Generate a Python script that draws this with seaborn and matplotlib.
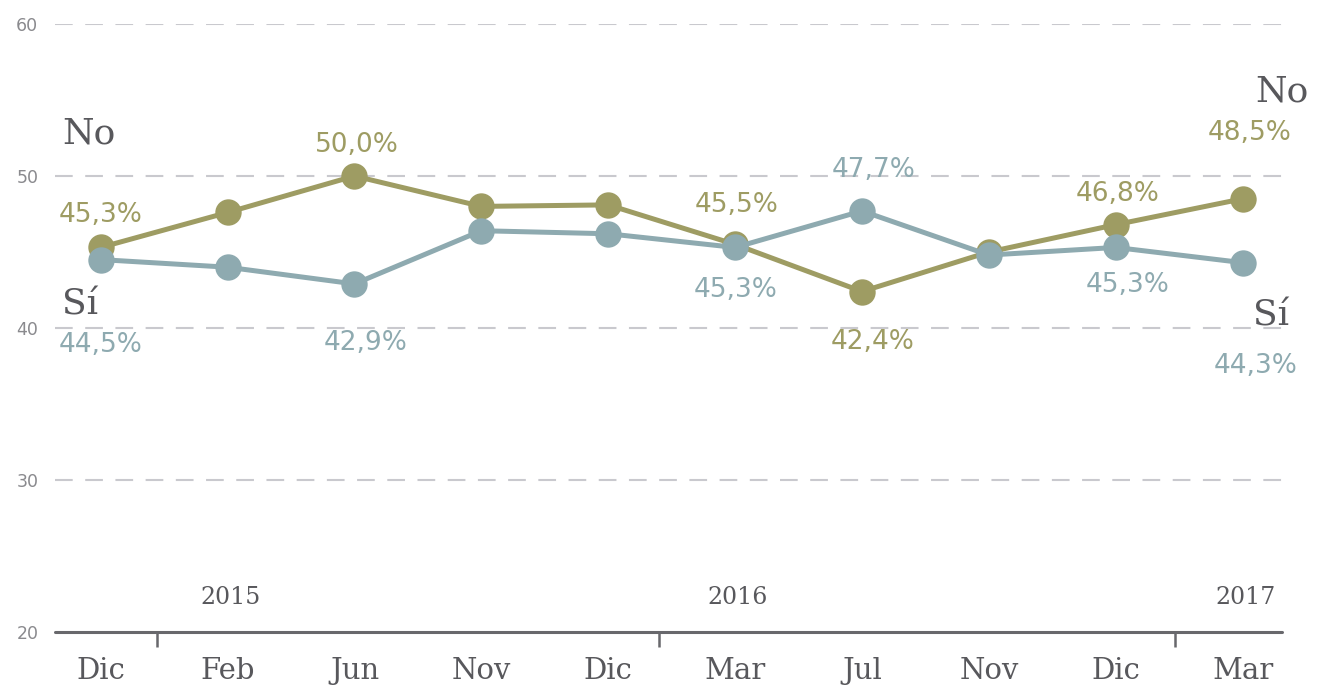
import matplotlib.pyplot as plt
import seaborn as sns
import pandas as pd

plt.switch_backend('Agg')

# Data
months = ['Dic', 'Feb', 'Jun', 'Nov', 'Dic', 'Mar', 'Jul', 'Nov', 'Dic', 'Mar']
years = {1: '2015', 5: '2016', 9: '2017'}
no_vals = [45.3, 47.6, 50.0, 48.0, 48.1, 45.5, 42.4, 45.0, 46.8, 48.5]
si_vals = [44.5, 44.0, 42.9, 46.4, 46.2, 45.3, 47.7, 44.8, 45.3, 44.3]
no_labels = {0: '45,3%', 2: '50,0%', 5: '45,5%', 6: '42,4%', 8: '46,8%', 9: '48,5%'}
si_labels = {0: '44,5%', 2: '42,9%', 5: '45,3%', 6: '47,7%', 8: '45,3%', 9: '44,3%'}
yticks = [20, 30, 40, 50, 60]

GREEN = '#9e9c63'
BLUE = '#8eaab0'
DARK = '#58585c'
AXIS = '#68686c'

df = pd.DataFrame({
    'pos': list(range(len(months))) * 2,
    'valor': no_vals + si_vals,
    'serie': ['No'] * len(months) + ['Sí'] * len(months),
})

sns.set_style('white')
serif = ['DejaVu Serif']
narrow = ['DejaVu Sans Condensed', 'DejaVu Sans']

fig = plt.figure(figsize=(13.22, 6.88), dpi=100)
ax = fig.add_axes([55 / 1322, 1 - 632 / 688, (1282 - 55) / 1322, (632 - 24) / 688])

# dashed grid
for v in yticks[1:]:
    ax.axhline(v, color='#c9c9ce', lw=1.5, ls=(0, (8.5, 6)), zorder=0)
ax.axhline(20, color=AXIS, lw=2.2, zorder=1, clip_on=False)

sns.lineplot(data=df, x='pos', y='valor', hue='serie', hue_order=['No', 'Sí'],
             palette={'No': GREEN, 'Sí': BLUE}, marker='o', markersize=19,
             markeredgewidth=0, linewidth=3.6, legend=False, sort=False, ax=ax, zorder=3)

ax.set_xlim(-0.36, 9.31)
ax.set_ylim(20, 60)
for s in ax.spines.values():
    s.set_visible(False)

ax.set_yticks(yticks)
ax.set_yticklabels([str(v) for v in yticks], color='#8a8a8e', fontsize=12.5, family=['DejaVu Sans'])
ax.tick_params(axis='y', length=0, pad=12)

ax.set_xticks(range(len(months)))
ax.set_xticklabels(months, color=DARK, fontsize=21, family=serif)
ax.tick_params(axis='x', which='major', length=0, pad=18)
ax.set_xticks([0.44, 4.4, 8.47], minor=True)
ax.tick_params(axis='x', which='minor', bottom=True, direction='out', length=11,
               width=1.8, color=AXIS)
ax.set_xlabel('')
ax.set_ylabel('')

# year labels
for i, yr in years.items():
    ax.annotate(yr, (i, 20), xytext=(3, 35), textcoords='offset pixels',
                ha='center', va='center', fontsize=17, color=DARK, family=serif)

# value labels (offsets in pixels)
no_off = {0: (0, 32), 2: (2, 31), 5: (2, 39), 6: (11, -50), 8: (2, 31), 9: (7, 66)}
si_off = {0: (0, -85), 2: (11, -59), 5: (1, -43), 6: (12, 41), 8: (12, -38), 9: (13, -103)}
for i, t in no_labels.items():
    ax.annotate(t, (i, no_vals[i]), xytext=no_off[i], textcoords='offset pixels',
                ha='center', va='center', fontsize=19, color=GREEN, family=narrow)
for i, t in si_labels.items():
    ax.annotate(t, (i, si_vals[i]), xytext=si_off[i], textcoords='offset pixels',
                ha='center', va='center', fontsize=19, color=BLUE, family=narrow)

# series names
ax.annotate('No', (0, no_vals[0]), xytext=(-38, 114), textcoords='offset pixels',
            ha='left', va='center', fontsize=26, color=DARK, family=serif, annotation_clip=False)
ax.annotate('Sí', (0, si_vals[0]), xytext=(-39, -45), textcoords='offset pixels',
            ha='left', va='center', fontsize=26, color=DARK, family=serif, annotation_clip=False)
ax.annotate('No', (9, no_vals[9]), xytext=(13, 107), textcoords='offset pixels',
            ha='left', va='center', fontsize=26, color=DARK, family=serif, annotation_clip=False)
ax.annotate('Sí', (9, si_vals[9]), xytext=(10, -53), textcoords='offset pixels',
            ha='left', va='center', fontsize=26, color=DARK, family=serif, annotation_clip=False)

fig.savefig('out.png', dpi=100, facecolor='white')
plt.close(fig)
